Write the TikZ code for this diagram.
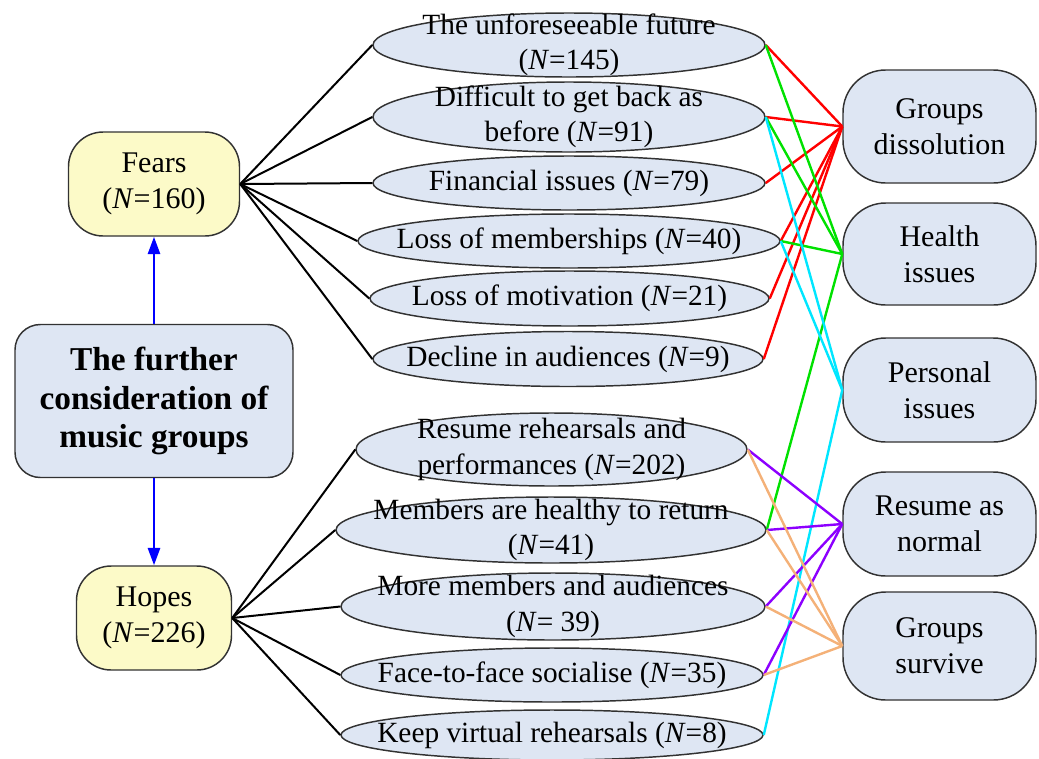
\documentclass[tikz,border=0pt]{standalone}
\usepackage{fontspec}
\setmainfont{LiberationSerif}[
  Extension=.ttf,
  UprightFont=*-Regular,
  BoldFont=*-Bold,
  ItalicFont=*-Italic,
  BoldItalicFont=*-BoldItalic]
\usetikzlibrary{shapes.geometric,arrows.meta}

\definecolor{ellfill}{RGB}{222,230,243}
\definecolor{yelfill}{RGB}{252,250,200}
\definecolor{edgegrey}{RGB}{50,50,50}
\definecolor{cred}{RGB}{255,0,0}
\definecolor{cgreen}{RGB}{0,225,0}
\definecolor{ccyan}{RGB}{0,230,255}
\definecolor{cpurple}{RGB}{140,0,255}
\definecolor{corange}{RGB}{244,177,120}
\definecolor{cblue}{RGB}{0,0,255}

\tikzset{
  boxw/.style={minimum width=#1*0.75pt},
  boxh/.style={minimum height=#1*0.75pt},
  ell/.style={ellipse, draw=edgegrey, line width=1.1pt, fill=ellfill, inner sep=0pt},
  etext/.style={align=center, inner sep=0pt, font=\fontsize{22}{26.5}\selectfont},
  sidebox/.style={rectangle, rounded corners=26pt, draw=edgegrey, line width=1.1pt,
    fill=yelfill, align=center, inner sep=0pt, font=\fontsize{22.5}{27}\selectfont},
  outbox/.style={rectangle, rounded corners=32pt, draw=edgegrey, line width=1.1pt,
    fill=ellfill, align=center, inner sep=0pt, font=\fontsize{22.5}{27}\selectfont},
  mainbox/.style={rectangle, rounded corners=19pt, draw=edgegrey, line width=1.1pt,
    fill=ellfill, align=center, inner sep=0pt, font=\bfseries\fontsize{25}{29}\selectfont},
  tree/.style={line width=1.5pt, black},
  link/.style={line width=1.8pt},
  flow/.style={line width=2pt, cblue, -{Triangle[width=9pt,length=13pt]}}
}

% ellipse with its centred caption: name, x, y, width, height, text
\newcommand\ellnode[6]{%
  \node[ell, boxw=#4, boxh=#5] (#1) at (#2,#3) {};
  \node[etext] (#1t) at (#1.center) {#6};
}

\begin{document}
\begin{tikzpicture}[x=0.75pt, y=-0.75pt]
\useasboundingbox (0,0) rectangle (1039,758);

% left column
\node[sidebox, boxw=171, boxh=104] (fears) at (154,184) {Fears\\(\textit{N}=160)};
\node[mainbox, boxw=278, boxh=153] (main) at (154,401) {The further\\consideration of\\music groups};
\node[sidebox, boxw=155, boxh=104] (hopes) at (154,618) {Hopes\\(\textit{N}=226)};

\draw[flow] (main.north) -- (fears.south);
\draw[flow] (main.south) -- (hopes.north);

% fears
\ellnode{e1}{569}{45}{392}{64}{The unforeseeable future\\(\textit{N}=145)}
\ellnode{e2}{569}{117}{392}{70}{Difficult to get back as\\before (\textit{N}=91)}
\ellnode{e3}{569}{183}{392}{54}{Financial issues (\textit{N}=79)}
\ellnode{e4}{569}{241}{422}{54}{Loss of memberships (\textit{N}=40)}
\ellnode{e5}{569.5}{298.5}{399}{55}{Loss of motivation (\textit{N}=21)}
\ellnode{e6}{568}{359}{390}{55}{Decline in audiences (\textit{N}=9)}

% hopes
\ellnode{h1}{551.5}{449.5}{391}{73}{Resume rehearsals and\\performances (\textit{N}=202)}
\ellnode{h2}{551}{530}{430}{66}{Members are healthy to return\\(\textit{N}=41)}
\ellnode{h3}{553}{606.5}{424}{67}{More members and audiences\\(\textit{N}= 39)}
\ellnode{h4}{552}{675}{422}{54}{Face-to-face socialise (\textit{N}=35)}
\ellnode{h5}{552}{735}{422}{50}{Keep virtual rehearsals (\textit{N}=8)}

% outcomes
\node[outbox, boxw=193, boxh=113] (r1) at (939.5,126.5) {Groups\\dissolution};
\node[outbox, boxw=193, boxh=102] (r2) at (939.5,254) {Health\\issues};
\node[outbox, boxw=193, boxh=104] (r3) at (939.5,390) {Personal\\issues};
\node[outbox, boxw=193, boxh=104] (r4) at (939.5,524) {Resume as\\normal};
\node[outbox, boxw=193, boxh=108] (r5) at (939.5,646) {Groups\\survive};

% tree branches
\foreach \e in {e1,e2,e3,e4,e5,e6} \draw[tree] (fears.east) -- (\e.west);
\foreach \e in {h1,h2,h3,h4,h5} \draw[tree] (hopes.east) -- (\e.west);

% links to outcomes
\foreach \e in {e1,e2,e3,e4,e5,e6} \draw[link, cred] (\e.east) -- (r1.west);
\foreach \e in {e1,e2,e4,h2} \draw[link, cgreen] (\e.east) -- (r2.west);
\foreach \e in {e2,e4,h5} \draw[link, ccyan] (\e.east) -- (r3.west);
\foreach \e in {h1,h2,h3,h4} \draw[link, cpurple] (\e.east) -- (r4.west);
\foreach \e in {h1,h2,h3,h4} \draw[link, corange] (\e.east) -- (r5.west);
\end{tikzpicture}
\end{document}
